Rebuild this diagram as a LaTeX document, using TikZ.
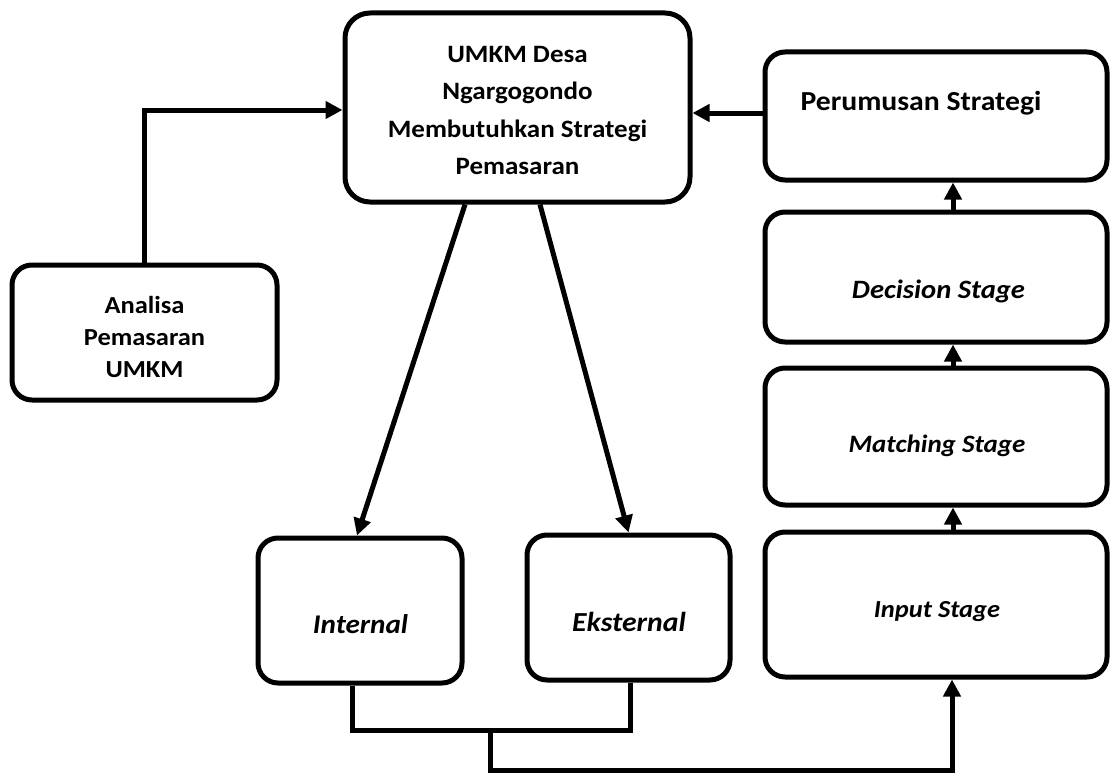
\documentclass[tikz,border=0pt]{standalone}
\usepackage{fontspec}
\setmainfont{Carlito}[FakeStretch=1.08]
\usetikzlibrary{arrows.meta}
\begin{document}
\begin{tikzpicture}[x=1pt,y=-1pt,line width=5pt,
  box/.style={draw=black, rounded corners=20pt, inner sep=0pt, fill=white},
  txt/.style={inner sep=0pt, align=center},
  lbl/.style={inner sep=0pt, anchor=base},
  arr/.style={-{Triangle[length=17pt,width=17pt]}}]
\useasboundingbox (0,0) rectangle (1114,776);
% boxes
\node[box, rounded corners=25pt, minimum width=345pt, minimum height=189pt] (top) at (517.5,107.5) {};
\node[txt, font=\bfseries\fontsize{25}{37.5}\selectfont] (toptxt) at ([yshift=-3pt]top.center)
  {UMKM Desa\\Ngargogondo\\Membutuhkan Strategi\\Pemasaran};
\node[box, minimum width=265pt, minimum height=135pt] (analisa) at (144.5,332.5) {};
\node[txt, font=\bfseries\fontsize{24.5}{32}\selectfont] (analisatxt) at ([yshift=-4.5pt]analisa.center)
  {Analisa\\Pemasaran\\UMKM};
\node[box, minimum width=342pt, minimum height=128pt] (perum) at (936,116) {};
\node[lbl, anchor=base west, font=\bfseries\fontsize{27.5}{30}\selectfont] (perumtxt) at (798,110.5) {Perumusan Strategi};
\node[box, minimum width=342pt, minimum height=130pt] (decision) at (936,277) {};
\node[lbl, font=\bfseries\itshape\fontsize{26.5}{30}\selectfont] (decisiontxt) at (938.5,298) {Decision Stage};
\node[box, minimum width=342pt, minimum height=137pt] (matching) at (936,436.5) {};
\node[lbl, font=\bfseries\itshape\fontsize{25}{30}\selectfont] (matchingtxt) at (937,452) {Matching Stage};
\node[box, minimum width=342pt, minimum height=145pt] (input) at (936,604.5) {};
\node[lbl, font=\bfseries\itshape\fontsize{24.5}{30}\selectfont] (inputtxt) at (937,617) {Input Stage};
\node[box, minimum width=204pt, minimum height=145pt] (internal) at (360,610.5) {};
\node[lbl, font=\bfseries\itshape\fontsize{27}{30}\selectfont] (internaltxt) at (360.5,633) {Internal};
\node[box, minimum width=203pt, minimum height=145pt] (eksternal) at (628.5,607.5) {};
\node[lbl, font=\bfseries\itshape\fontsize{27.5}{30}\selectfont] (eksternaltxt) at (629,631) {Eksternal};
% connectors
\draw[arr] (analisa.north) |- ([yshift=-2.5pt]top.west);
\draw[arr] ([yshift=3pt]perum.west) -- ([yshift=3pt]perum.west -| top.east);
\draw[arr] ([xshift=-52.5pt]top.south) -- ([xshift=-3pt]internal.north);
\draw[arr] ([xshift=22.5pt]top.south) -- (eksternal.north);
\draw[arr] ([xshift=17pt]decision.north) -- ([xshift=17pt]perum.south);
\draw[arr] ([xshift=17pt]matching.north) -- ([xshift=17pt]decision.south);
\draw[arr] ([xshift=17pt]input.north) -- ([xshift=17pt]matching.south);
\coordinate (j) at (490,730);
\coordinate (k) at (490,770);
\draw ([xshift=-8pt]internal.south) |- (j) -| ([xshift=1.5pt]eksternal.south);
\draw[arr] (j) -- (k) -| ([xshift=16pt]input.south);
\end{tikzpicture}
\end{document}
